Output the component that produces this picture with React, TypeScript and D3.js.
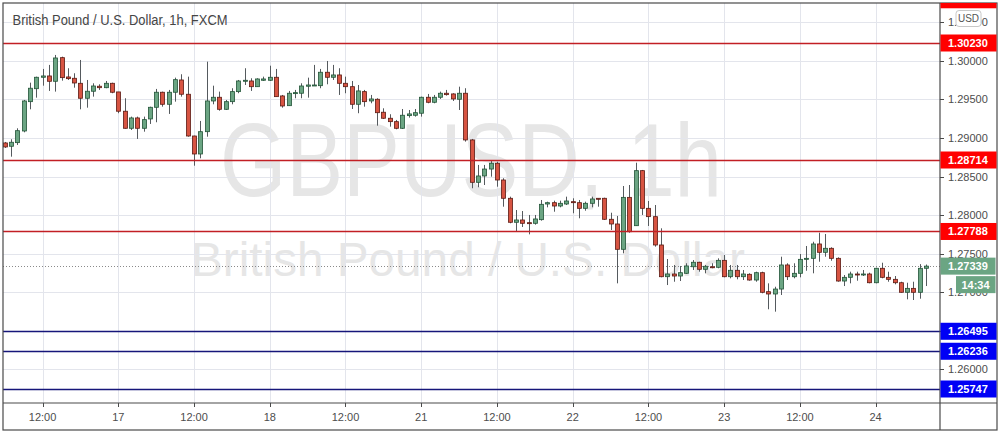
import React from "react";
import * as d3 from "d3";

// ---- data: GBP/USD 1h candles (16 Sep 06:00 -> 24 Sep 08:00) ----
const dayList = ["16", "17", "18", "21", "22", "23", "24"];
const firstHour = 6;
const lastHour = 8;

const openVals = [
  1.28935, 1.28892, 1.28939, 1.2909, 1.2947, 1.29638, 1.29786, 1.29803, 1.29734, 1.3004,
  1.2979, 1.29773, 1.29708, 1.29514, 1.29605, 1.2967, 1.29651, 1.29708, 1.29596, 1.29346,
  1.29125, 1.29259, 1.29125, 1.29246, 1.29397, 1.29592, 1.29436, 1.29592, 1.29751, 1.29566,
  1.29025, 1.28792, 1.29081, 1.29479, 1.29527, 1.29371, 1.2947, 1.296, 1.29738, 1.29738,
  1.29664, 1.29747, 1.29747, 1.29786, 1.29544, 1.29418, 1.29574, 1.29579, 1.2967, 1.2968,
  1.29677, 1.29851, 1.29786, 1.29816, 1.29708, 1.29664, 1.29436, 1.296, 1.29479, 1.29501,
  1.29333, 1.29255, 1.29211, 1.29125, 1.29289, 1.29294, 1.2932, 1.29527, 1.29462, 1.29527,
  1.29579, 1.2957, 1.29501, 1.29579, 1.28974, 1.28425, 1.28507, 1.28597, 1.28672, 1.28455,
  1.28218, 1.27907, 1.27937, 1.27902, 1.27894, 1.27941, 1.28144, 1.28161, 1.28118, 1.28144,
  1.28174, 1.28161, 1.28088, 1.28153, 1.28218, 1.28218, 1.27946, 1.27885, 1.27557, 1.2823,
  1.27863, 1.28576, 1.28088, 1.2798, 1.27613, 1.27202, 1.27237, 1.27211, 1.27246, 1.27331,
  1.27389, 1.27298, 1.27331, 1.27324, 1.27414, 1.27202, 1.27285, 1.27202, 1.27233, 1.27159,
  1.27254, 1.27008, 1.26978, 1.27042, 1.27354, 1.27202, 1.27246, 1.27427, 1.2744, 1.27626,
  1.27518, 1.2757, 1.2744, 1.27146, 1.27194, 1.27237, 1.27228, 1.27237, 1.27124, 1.27311,
  1.27194, 1.27168, 1.27124, 1.27, 1.27051, 1.27, 1.27311,
];
const closeVals = [
  1.28883, 1.28944, 1.29094, 1.29479, 1.29644, 1.29786, 1.29803, 1.29734, 1.30036, 1.29781,
  1.29768, 1.29712, 1.29514, 1.29605, 1.29673, 1.29651, 1.29708, 1.29592, 1.29346, 1.29125,
  1.29259, 1.29125, 1.29237, 1.29397, 1.29592, 1.29436, 1.29592, 1.29755, 1.29566, 1.29025,
  1.28792, 1.29081, 1.29479, 1.29527, 1.29371, 1.2947, 1.296, 1.29738, 1.29747, 1.29664,
  1.29764, 1.29764, 1.29786, 1.29535, 1.29414, 1.29579, 1.29587, 1.29673, 1.29686, 1.29686,
  1.29851, 1.29786, 1.29816, 1.29708, 1.29664, 1.29436, 1.29609, 1.2947, 1.29505, 1.29327,
  1.29255, 1.29211, 1.29125, 1.29294, 1.29311, 1.29327, 1.29527, 1.29462, 1.29527, 1.29579,
  1.29561, 1.29505, 1.29579, 1.28974, 1.28425, 1.28507, 1.28597, 1.28672, 1.28455, 1.28218,
  1.27907, 1.27937, 1.27894, 1.27894, 1.2795, 1.2814, 1.28161, 1.28118, 1.28153, 1.28183,
  1.28161, 1.28088, 1.28153, 1.28209, 1.28205, 1.27946, 1.27885, 1.27557, 1.2823, 1.27785,
  1.28576, 1.28088, 1.2798, 1.27613, 1.27202, 1.27237, 1.27211, 1.27254, 1.27341, 1.27389,
  1.27298, 1.27337, 1.27318, 1.27414, 1.27202, 1.27285, 1.27202, 1.27237, 1.27159, 1.27254,
  1.27, 1.26978, 1.27042, 1.27354, 1.27202, 1.27246, 1.27427, 1.2744, 1.27626, 1.27518,
  1.2757, 1.2744, 1.27146, 1.27194, 1.27237, 1.27228, 1.27237, 1.27124, 1.27311, 1.27194,
  1.27168, 1.27124, 1.27, 1.27051, 1.27, 1.27311, 1.27339,
];
const highVals = [
  1.28948, 1.28983, 1.29125, 1.29492, 1.29716, 1.29794, 1.29894, 1.29946, 1.30075, 1.30053,
  1.29903, 1.29838, 1.3001, 1.29751, 1.29708, 1.29695, 1.29738, 1.29716, 1.29596, 1.29514,
  1.29276, 1.29276, 1.29276, 1.29405, 1.29635, 1.296, 1.29622, 1.29781, 1.29825, 1.29794,
  1.29029, 1.2922, 1.29988, 1.29677, 1.296, 1.29492, 1.29644, 1.29751, 1.29903, 1.29773,
  1.29773, 1.29794, 1.29936, 1.29894, 1.29557, 1.29609, 1.29622, 1.29708, 1.29781, 1.29946,
  1.29894, 1.29997, 1.29946, 1.29903, 1.29794, 1.29738, 1.29686, 1.29622, 1.29557, 1.29514,
  1.29384, 1.29307, 1.29233, 1.29375, 1.29362, 1.29375, 1.29535, 1.2957, 1.29557, 1.296,
  1.29622, 1.29579, 1.29664, 1.29644, 1.28987, 1.2865, 1.2865, 1.28714, 1.28692, 1.28478,
  1.28239, 1.28066, 1.28053, 1.28002, 1.28002, 1.28196, 1.28174, 1.28187, 1.28187, 1.28239,
  1.28218, 1.28196, 1.28174, 1.28239, 1.28218, 1.28226, 1.28031, 1.27989, 1.28377, 1.2839,
  1.28679, 1.28585, 1.28183, 1.28131, 1.27829, 1.27431, 1.27354, 1.27341, 1.27376, 1.27418,
  1.27396, 1.27354, 1.27376, 1.2744, 1.27483, 1.27354, 1.27354, 1.27289, 1.27246, 1.27267,
  1.27267, 1.27116, 1.27072, 1.27461, 1.27376, 1.27376, 1.27496, 1.276, 1.27655, 1.27772,
  1.27755, 1.27583, 1.27453, 1.27224, 1.27267, 1.27267, 1.27289, 1.27254, 1.27318, 1.27383,
  1.27267, 1.27211, 1.27137, 1.27124, 1.27137, 1.27365, 1.2736,
];
const lowVals = [
  1.2887, 1.28757, 1.28909, 1.29073, 1.29371, 1.29522, 1.29677, 1.29609, 1.296, 1.29742,
  1.29751, 1.29651, 1.29371, 1.29392, 1.29535, 1.29622, 1.29644, 1.29579, 1.2932, 1.2912,
  1.29103, 1.28987, 1.29081, 1.29181, 1.29203, 1.29405, 1.29311, 1.2947, 1.29535, 1.29016,
  1.2864, 1.28736, 1.29016, 1.29436, 1.29353, 1.29362, 1.29436, 1.29579, 1.29686, 1.29609,
  1.29664, 1.29738, 1.29738, 1.29535, 1.29392, 1.29414, 1.29514, 1.29514, 1.29522, 1.29673,
  1.29644, 1.29695, 1.29751, 1.29557, 1.29579, 1.29375, 1.2932, 1.29405, 1.29449, 1.29159,
  1.29246, 1.29146, 1.29112, 1.29116, 1.29263, 1.29276, 1.29276, 1.29449, 1.29449, 1.29505,
  1.29548, 1.29479, 1.29362, 1.28952, 1.28348, 1.28361, 1.2839, 1.28498, 1.28368, 1.28109,
  1.27894, 1.27785, 1.27846, 1.27751, 1.27876, 1.27928, 1.28101, 1.28044, 1.28101, 1.28131,
  1.28024, 1.27959, 1.28057, 1.28101, 1.28109, 1.27937, 1.27807, 1.27116, 1.27505, 1.27772,
  1.27859, 1.28002, 1.27859, 1.27591, 1.27194, 1.27094, 1.27137, 1.27146, 1.27237, 1.27289,
  1.27267, 1.27246, 1.27311, 1.27311, 1.27194, 1.27181, 1.27168, 1.27159, 1.2715, 1.27137,
  1.26987, 1.2678, 1.26749, 1.26965, 1.27159, 1.27181, 1.27194, 1.27279, 1.27246, 1.27396,
  1.27461, 1.27409, 1.27137, 1.27081, 1.27116, 1.2715, 1.27211, 1.27116, 1.27116, 1.27181,
  1.27137, 1.27103, 1.26995, 1.26909, 1.269, 1.26917, 1.27081,
];

const resistanceLevels = [1.3079, 1.3023, 1.28714, 1.27788];
const supportLevels = [1.26495, 1.26236, 1.25747];
const lastPrice = 1.27339;
const countdown = "14:34";
const titleText = "British Pound / U.S. Dollar, 1h, FXCM";
const watermarkSymbol = "GBPUSD, 1h";
const watermarkName = "British Pound / U.S. Dollar";
const currency = "USD";

// ---- layout ----
const W = 1003;
const H = 434;
const plotL = 3;
const plotR = 940;
const plotT = 3;
const plotB = 403;
const outerR = 997;
const outerB = 430;

const times: { day: string; hour: number; key: string }[] = [];
dayList.forEach((d, i) => {
  const s = i === 0 ? firstHour : 0;
  const e = i === dayList.length - 1 ? lastHour : 23;
  for (let h = s; h <= e; h++) times.push({ day: d, hour: h, key: `${d}-${h}` });
});

const candles = times.map((t, i) => ({
  key: t.key,
  o: openVals[i],
  h: highVals[i],
  l: lowVals[i],
  c: closeVals[i],
}));

const step = 6.311;
const x = d3
  .scaleBand<string>()
  .domain(times.map((t) => t.key))
  .range([1.55, 1.55 + step * times.length])
  .padding(0);
const bw = x.bandwidth();
const cx = (k: string) => (x(k) as number) + bw / 2;

const y = d3.scaleLinear().domain([1.25747, 1.3023]).range([389, 43]);
const crisp = (v: number) => Math.round(v) + 0.5;

const priceTicks = d3.range(1.255, 1.3101, 0.005).filter((p) => {
  const yy = y(p);
  return yy > plotT + 2 && yy < plotB - 2;
});
const fmt = d3.format(".5f");

const timeTicks = times.filter((t) => t.hour === 0 || t.hour === 12);

const FONT = "'Liberation Sans', Arial, sans-serif";
const UP = "#6ba583";
const UP_B = "#225437";
const DN = "#d75442";
const DN_B = "#5b1a13";
const GRID = "#e3e5ec";
const FRAME = "#4a4a4a";

export default function App() {
  return (
    <svg
      width={W}
      height={H}
      style={{ position: "absolute", left: 0, top: 0, background: "#fff" }}
      fontFamily={FONT}
    >
      <defs>
        <clipPath id="plot">
          <rect x={plotL} y={plotT} width={plotR - plotL} height={plotB - plotT} />
        </clipPath>
        <clipPath id="axis">
          <rect x={plotR} y={plotT} width={W - plotR} height={plotB - plotT} />
        </clipPath>
      </defs>
      <rect x={0} y={0} width={W} height={H} fill="#fff" />

      {/* watermark */}
      <g fill="#e6e6e6">
        <text x={220} y={196} fontSize={104} textLength={502} lengthAdjust="spacingAndGlyphs">
          {watermarkSymbol}
        </text>
        <text x={191} y={276} fontSize={48} textLength={554} lengthAdjust="spacingAndGlyphs">
          {watermarkName}
        </text>
      </g>

      {/* grid */}
      <g clipPath="url(#plot)" stroke={GRID} strokeWidth={1}>
        {priceTicks.map((p) => (
          <line key={"h" + p} x1={plotL} x2={plotR} y1={crisp(y(p))} y2={crisp(y(p))} />
        ))}
        {timeTicks.map((t) => (
          <line key={"v" + t.key} x1={crisp(cx(t.key))} x2={crisp(cx(t.key))} y1={plotT} y2={plotB} />
        ))}
      </g>

      {/* last price dotted line */}
      <line
        x1={plotL}
        x2={plotR}
        y1={crisp(y(lastPrice))}
        y2={crisp(y(lastPrice))}
        stroke="#8a8a8a"
        strokeWidth={1}
        strokeDasharray="1 2"
      />

      {/* candles */}
      <g clipPath="url(#plot)">
        {candles.map((d) => {
          const up = d.c >= d.o;
          const xc = crisp(cx(d.key));
          const yT = y(Math.max(d.o, d.c));
          const yB = y(Math.min(d.o, d.c));
          const hgt = Math.max(1, yB - yT);
          return (
            <g key={d.key}>
              <line x1={xc} x2={xc} y1={y(d.h)} y2={y(d.l)} stroke="#555a5e" strokeWidth={1} />
              <rect
                x={xc - 2}
                y={yT}
                width={4}
                height={hgt}
                fill={up ? UP : DN}
                stroke={up ? UP_B : DN_B}
                strokeWidth={0.8}
              />
            </g>
          );
        })}
      </g>

      {/* horizontal levels */}
      <g clipPath="url(#plot)" strokeWidth={1.3}>
        {resistanceLevels.map((p) => (
          <line key={"r" + p} x1={plotL} x2={plotR} y1={crisp(y(p))} y2={crisp(y(p))} stroke="#c21f24" />
        ))}
        {supportLevels.map((p) => (
          <line key={"s" + p} x1={plotL} x2={plotR} y1={crisp(y(p))} y2={crisp(y(p))} stroke="#16167a" />
        ))}
      </g>

      {/* title */}
      <text x={12.5} y={25} fontSize={14} fill="#454545" textLength={215} lengthAdjust="spacingAndGlyphs">
        {titleText}
      </text>

      {/* frame */}
      <g stroke={FRAME} strokeWidth={1.2} fill="none">
        <rect x={plotL} y={plotT} width={outerR - plotL} height={outerB - plotT} />
        <line x1={plotR} x2={plotR} y1={plotT} y2={outerB} />
        <line x1={plotL} x2={outerR} y1={plotB} y2={plotB} />
      </g>

      {/* price axis */}
      <g fontSize={11} fill="#4d4d4d">
        {priceTicks.map((p) => (
          <g key={"pt" + p}>
            <line x1={plotR} x2={plotR + 4} y1={crisp(y(p))} y2={crisp(y(p))} stroke={FRAME} />
            <text x={948} y={y(p) + 4}>{fmt(p)}</text>
          </g>
        ))}
      </g>

      {/* time axis */}
      <g fontSize={11} fill="#4d4d4d" textAnchor="middle">
        {timeTicks.map((t) => (
          <g key={"tt" + t.key}>
            <line x1={crisp(cx(t.key))} x2={crisp(cx(t.key))} y1={plotB} y2={plotB + 4} stroke={FRAME} />
            <text x={cx(t.key)} y={421}>{t.hour === 0 ? t.day : "12:00"}</text>
          </g>
        ))}
      </g>

      {/* level labels */}
      <g clipPath="url(#axis)" fontSize={11} fontWeight="bold" fill="#fff">
        {resistanceLevels.map((p) => (
          <g key={"rl" + p}>
            <rect x={plotR + 0.5} y={y(p) - 8.5} width={56} height={17} fill="#ff0000" />
            {y(p) > 12 && <text x={948} y={y(p) + 4}>{fmt(p)}</text>}
          </g>
        ))}
        {supportLevels.map((p) => (
          <g key={"sl" + p}>
            <rect x={plotR + 0.5} y={y(p) - 8.5} width={56} height={17} fill="#0000f5" />
            <text x={948} y={y(p) + 4}>{fmt(p)}</text>
          </g>
        ))}
        <rect x={plotR + 0.5} y={y(lastPrice) - 8.5} width={55} height={17} fill={UP} />
        <text x={948} y={y(lastPrice) + 4}>{fmt(lastPrice)}</text>
        <rect x={956} y={y(lastPrice) + 10} width={39.5} height={17} fill={UP} />
        <text x={975.5} y={y(lastPrice) + 22.5} textAnchor="middle">{countdown}</text>
      </g>

      {/* currency badge */}
      <rect x={956} y={10.5} width={25} height={16} rx={3} fill="#fff" stroke="#c8c8c8" />
      <text x={968.5} y={22} fontSize={10} fill="#555" textAnchor="middle">
        {currency}
      </text>
    </svg>
  );
}
